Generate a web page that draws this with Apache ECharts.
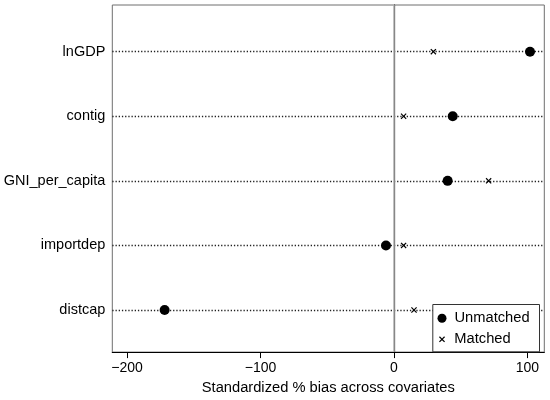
<!DOCTYPE html>
<html>
<head>
<meta charset="utf-8">
<script src="https://cdn.jsdelivr.net/npm/echarts@6/dist/echarts.min.js"></script>
<style>
html,body{margin:0;padding:0;background:#fff;}
#chart{width:550px;height:400px;}
</style>
</head>
<body>
<div id="chart"></div>
<script>
var categories = ['lnGDP', 'contig', 'GNI_per_capita', 'importdep', 'distcap'];
var unmatched = [101.9, 44.0, 40.2, -6.0, -171.8];
var matched = [29.5, 7.2, 70.9, 7.2, 15.0];
var xTicks = [-200, -100, 0, 100];
var xMin = -211, xMax = 112.6;

var crossPath = 'path://M0,1.4L1.4,0L5,3.6L8.6,0L10,1.4L6.4,5L10,8.6L8.6,10L5,6.4L1.4,10L0,8.6L3.6,5Z';
var FONT = '"Liberation Sans", Arial, Helvetica, sans-serif';

var chart = echarts.init(document.getElementById('chart'), null, {renderer: 'canvas'});
chart.setOption({
  animation: false,
  backgroundColor: '#fff',
  textStyle: {fontFamily: FONT, color: '#000'},
  grid: [
    {left: 112.3, right: 5.7, top: 5, bottom: 44, show: true, borderColor: '#6e6e6e', borderWidth: 1, backgroundColor: 'transparent'},
    {left: 112.3, right: 5.7, top: 51.7, bottom: 90}
  ],
  xAxis: [
    {
      gridIndex: 0, type: 'value', min: xMin, max: xMax,
      name: 'Standardized % bias across covariates', nameLocation: 'middle', nameGap: 25.5,
      nameTextStyle: {fontSize: 14.7, color: '#000', fontFamily: FONT},
      axisLine: {show: true, lineStyle: {color: '#000', width: 1.2}},
      axisTick: {show: true, length: 6, lineStyle: {color: '#000', width: 1}, customValues: xTicks},
      axisLabel: {fontSize: 14, color: '#000', margin: 9, fontFamily: FONT, customValues: xTicks,
        formatter: function (v) { return v < 0 ? '\u2212' + Math.abs(v) : String(v); }},
      splitLine: {show: false}
    },
    {
      gridIndex: 1, type: 'value', min: xMin, max: xMax, show: false,
      splitLine: {show: false}
    }
  ],
  yAxis: [
    {
      gridIndex: 0, type: 'value', min: 0, max: 1,
      axisLine: {show: true, lineStyle: {color: '#000', width: 1.2}},
      axisTick: {show: false}, axisLabel: {show: false}, splitLine: {show: false}
    },
    {
      gridIndex: 1, type: 'category', data: categories, inverse: true, boundaryGap: false,
      axisLine: {show: false}, axisTick: {show: false},
      axisLabel: {fontSize: 14.5, color: '#000', margin: 7, fontFamily: FONT},
      splitLine: {show: true, lineStyle: {color: '#222', width: 1.3, type: [1.3, 1.9]}}
    }
  ],
  legend: [
    {
      data: [{name: 'Unmatched', icon: 'circle'}],
      left: 437.5, top: 310.3, padding: 0, itemWidth: 9, itemHeight: 9,
      itemStyle: {opacity: 1},
      textStyle: {fontSize: 14.7, color: '#000', fontFamily: FONT, lineHeight: 16, padding: [0, 0, 0, 3]},
      z: 20
    },
    {
      data: [{name: 'Matched', icon: crossPath}],
      left: 439, top: 331.3, padding: 0, itemWidth: 6, itemHeight: 6,
      itemStyle: {opacity: 1},
      textStyle: {fontSize: 14.7, color: '#000', fontFamily: FONT, lineHeight: 16, padding: [0, 0, 0, 4.3]},
      z: 20
    }
  ],
  graphic: [
    {type: 'rect', left: 432.3, top: 304, z: 10,
      shape: {width: 106.7, height: 47.3},
      style: {fill: '#fff', stroke: '#333', lineWidth: 1}}
  ],
  series: [
    {
      type: 'scatter', xAxisIndex: 0, yAxisIndex: 0, data: [], silent: true,
      markLine: {
        silent: true, symbol: 'none', label: {show: false},
        lineStyle: {color: '#b4b4b4', width: 1.5, type: 'solid'},
        data: [{xAxis: 0}]
      }
    },
    {
      name: 'Unmatched', type: 'scatter', xAxisIndex: 1, yAxisIndex: 1,
      symbol: 'circle', symbolSize: 10, itemStyle: {color: '#000', opacity: 1},
      data: unmatched.map(function (v, i) { return [v, categories[i]]; }), z: 5
    },
    {
      name: 'Matched', type: 'scatter', xAxisIndex: 1, yAxisIndex: 1,
      symbol: crossPath, symbolSize: 6, itemStyle: {color: '#000', opacity: 1},
      data: matched.map(function (v, i) { return [v, categories[i]]; }), z: 5
    }
  ]
});
</script>
</body>
</html>
